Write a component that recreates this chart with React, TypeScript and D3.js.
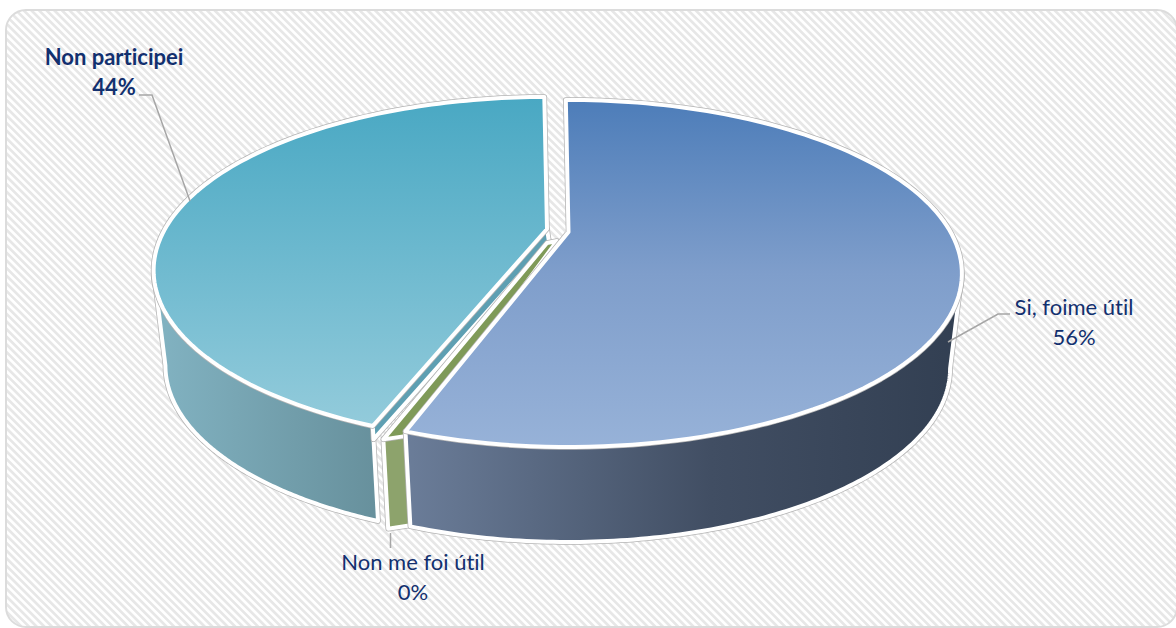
import React from "react";
import * as d3 from "d3";

const categories = ["Si, foime útil", "Non me foi útil", "Non participei"];
const values = [55.5, 0.4, 44.1];
const percentLabels = ["56%", "0%", "44%"];

const W = 1176, H = 628;
const NAVY = "#12306f";
const DEG = Math.PI / 180;
const TILT = 0.239, KY = 163.6, DEPTH = 95, SHRINK = 0.03;
const pie = d3.pie<number>().sort(null).startAngle(-0.5 * DEG).endAngle(359.5 * DEG);
const [blue, green, teal] = pie(values);

type Hub = { x: number; y: number; R: number };
const hubBlue: Hub = { x: 568.5, y: 232, R: 382 };
const hubTeal: Hub = { x: 547, y: 229, R: 382 };
const hubGreen: Hub = { x: 556, y: 242, R: 382 };

const project = (h: Hub, a: number, r = 1, z = 0): [number, number] => {
  const x = Math.sin(a) * r, y = -Math.cos(a) * r, w = 1 - TILT * y;
  return [h.x + (h.R * (1 - SHRINK * z) * x) / w, h.y + DEPTH * z + (KY * y) / w];
};
const line = d3.line<[number, number]>();
const samples = (a0: number, a1: number) => d3.range(0, 121).map((i) => a0 + ((a1 - a0) * i) / 120);
const topPath = (h: Hub, a0: number, a1: number) =>
  line([[h.x, h.y], ...samples(a0, a1).map((a) => project(h, a))]) + "Z";
const wallPath = (h: Hub, a0: number, a1: number) =>
  line([
    ...samples(a0, a1).map((a) => project(h, a)),
    ...samples(a0, a1).reverse().map((a) => project(h, a, 1, 1)),
  ]) + "Z";

const sil = Math.acos(-TILT);
const greenLeft = green.endAngle - 0.2 * DEG;
const greenRight = green.startAngle - 1.7 * DEG;
const greenTop = line([
  [hubGreen.x - 9, hubGreen.y + 1], [hubGreen.x + 1, hubGreen.y - 1],
  project(hubGreen, greenRight, 0.965), project(hubGreen, greenLeft),
]) + "Z";
const greenWall = line([
  project(hubGreen, greenRight, 0.965), project(hubGreen, greenLeft),
  project(hubGreen, greenLeft, 1, 0.94), project(hubGreen, greenRight, 0.965, 0.94),
]) + "Z";
const tealCut = line([
  [hubTeal.x, hubTeal.y], project(hubTeal, teal.startAngle),
  project(hubTeal, teal.startAngle, 1, 0.14), [hubTeal.x + 2, hubTeal.y + 13],
]) + "Z";

const Face = ({ d, fill }: { d: string; fill: string }) => (
  <g strokeLinejoin="round">
    <path d={d} fill="none" stroke="#b4b4b4" strokeWidth={5.5} />
    <path d={d} fill={fill} stroke="#fff" strokeWidth={4} />
  </g>
);

const Label = ({ x, y, name, pct, bold }: any) => (
  <text
    textAnchor="middle"
    fontFamily="Lato, 'Noto Sans', sans-serif"
    fontSize={22}
    fontWeight={bold ? 700 : 400}
    fill={NAVY}
    style={{ fontVariantLigatures: "none" }}
  >
    <tspan x={x} y={y}>{name}</tspan>
    <tspan x={x} y={y + 30}>{pct}</tspan>
  </text>
);

export default function App() {
  return (
    <svg width={W} height={H} viewBox={`0 0 ${W} ${H}`} style={{ position: "fixed", left: 0, top: 0, display: "block" }}>
      <defs>
        <pattern id="hatch" width={5.4} height={5.4} patternUnits="userSpaceOnUse" patternTransform="rotate(45)">
          <rect width={5.4} height={5.4} fill="#fff" />
          <rect width={5.4} height={2.7} fill="#e7e7e7" />
        </pattern>
        <linearGradient id="gBlue" x1="0" y1="0" x2="0" y2="1">
          <stop offset="0" stopColor="#4d7db9" />
          <stop offset="0.5" stopColor="#7f9ecb" />
          <stop offset="1" stopColor="#97b2d8" />
        </linearGradient>
        <linearGradient id="gTeal" x1="0" y1="0" x2="0" y2="1">
          <stop offset="0" stopColor="#49a8c3" />
          <stop offset="1" stopColor="#93cbdb" />
        </linearGradient>
        <linearGradient id="gBlueWall" x1="0" y1="0" x2="1" y2="0">
          <stop offset="0" stopColor="#6b7d99" />
          <stop offset="0.55" stopColor="#414e63" />
          <stop offset="1" stopColor="#323f52" />
        </linearGradient>
        <linearGradient id="gTealWall" x1="0" y1="0" x2="1" y2="0">
          <stop offset="0" stopColor="#82b3c2" />
          <stop offset="1" stopColor="#67909c" />
        </linearGradient>
      </defs>
      <rect x={0} y={0} width={W} height={H} fill="#fff" />
      <rect x={6} y={10} width={1171} height={617} rx={20} fill="url(#hatch)" stroke="#dcdcdc" strokeWidth={2} />

      <Face d={wallPath(hubTeal, teal.startAngle, 2 * Math.PI - sil)} fill="url(#gTealWall)" />
      <Face d={tealCut} fill="#5e9fb2" />
      <Face d={topPath(hubTeal, teal.startAngle, teal.endAngle)} fill="url(#gTeal)" />
      <Face d={greenWall} fill="#8da36c" />
      <Face d={greenTop} fill="#7f9a58" />
      <Face d={wallPath(hubBlue, sil, blue.endAngle)} fill="url(#gBlueWall)" />
      <Face d={topPath(hubBlue, blue.startAngle, blue.endAngle)} fill="url(#gBlue)" />

      <g fill="none" stroke="#a6a6a6" strokeWidth={1.5}>
        <path d="M139,95H152L190,201" />
        <path d="M1010,314H998L948,342" />
        <path d="M390.500,533V548" />
      </g>
      <Label x={114} y={65} name={categories[2]} pct={percentLabels[2]} bold />
      <Label x={1074} y={315} name={categories[0]} pct={percentLabels[0]} />
      <Label x={413} y={570} name={categories[1]} pct={percentLabels[1]} />
    </svg>
  );
}
